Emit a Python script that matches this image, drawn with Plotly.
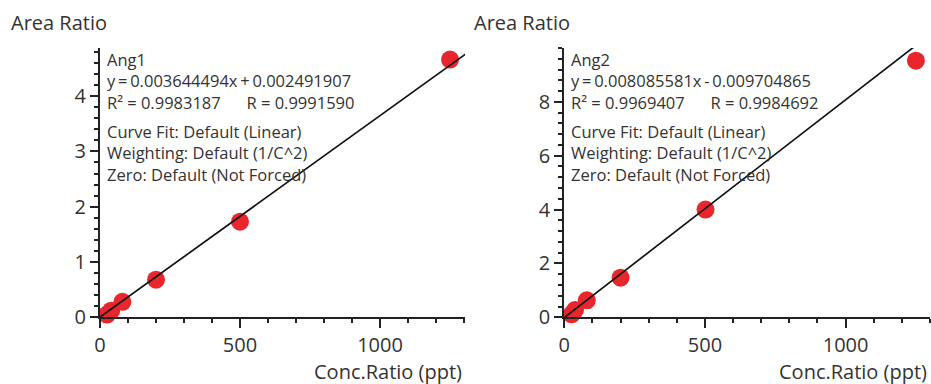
import plotly.graph_objects as go

# ---- data ----
conc_ang1 = [25, 40, 80, 200, 500, 1250]
ratio_ang1 = [0.05, 0.12, 0.28, 0.68, 1.73, 4.66]
conc_ang2 = [26, 38, 80, 200, 502, 1250]
ratio_ang2 = [0.11, 0.27, 0.63, 1.47, 4.0, 9.53]

fit1 = {"slope": 0.003644494, "intercept": 0.002491907}
fit2 = {"slope": 0.008085581, "intercept": -0.009704865}
fit_x = [0, 1320]

names = ["Ang1", "Ang2"]
eq_text = ["y\u2009=\u20090.003644494x\u2009+\u20090.002491907",
           "y\u2009=\u20090.008085581x\u2009-\u20090.009704865"]
r_text = ["R\u00b2 = 0.9983187" + "\u00a0" * 6 + "R = 0.9991590",
          "R\u00b2 = 0.9969407" + "\u00a0" * 6 + "R = 0.9984692"]
info_lines = ["Curve Fit: Default (Linear)",
              "Weighting: Default (1/C^2)",
              "Zero: Default (Not Forced)"]
y_title = "Area Ratio"
x_title = "Conc.Ratio (ppt)"

x_ticks = [0, 500, 1000]
y_ticks_1 = [0, 1, 2, 3, 4]
y_ticks_2 = [0, 2, 4, 6, 8]

W, H = 931, 384
RED = "#e8262b"
AX = "#222222"
FONT = "Open Sans"

fig = go.Figure()

panels = [
    dict(xs=conc_ang1, ys=ratio_ang1, fit=fit1, xa="x", ya="y",
         xdom=[100 / W, 465 / W], xr=[0, 1303.5], yr=[0, 4.87],
         yt=y_ticks_1, ydt=0.2, left=100),
    dict(xs=conc_ang2, ys=ratio_ang2, fit=fit2, xa="x2", ya="y2",
         xdom=[564.3 / W, 930 / W], xr=[0, 1300], yr=[0, 10.0],
         yt=y_ticks_2, ydt=0.4, left=564.3),
]

ydom = [(H - 317.3) / H, (H - 48) / H]

for i, p in enumerate(panels):
    fy = [p["fit"]["slope"] * x + p["fit"]["intercept"] for x in fit_x]
    fig.add_trace(go.Scatter(x=p["xs"], y=p["ys"], mode="markers",
                             marker=dict(color=RED, size=18, line=dict(width=0)),
                             xaxis=p["xa"], yaxis=p["ya"], showlegend=False,
                             cliponaxis=False))
    fig.add_trace(go.Scatter(x=fit_x, y=fy, mode="lines",
                             line=dict(color="#111111", width=1.7),
                             xaxis=p["xa"], yaxis=p["ya"], showlegend=False))

    axis_common = dict(showline=True, linecolor=AX, linewidth=2,
                       ticks="outside", tickcolor=AX, tickwidth=2,
                       showgrid=False, zeroline=False, fixedrange=True,
                       automargin=False,
                       tickfont=dict(family=FONT, size=20, color="#333333"))
    xkey = "xaxis" if i == 0 else "xaxis2"
    ykey = "yaxis" if i == 0 else "yaxis2"
    fig.layout[xkey] = dict(axis_common, domain=p["xdom"], range=p["xr"],
                            anchor=p["ya"], tickvals=x_ticks, ticklen=9,
                            minor=dict(dtick=100, tick0=0, ticks="outside",
                                       ticklen=4, tickwidth=2, tickcolor=AX))
    fig.layout[ykey] = dict(axis_common, domain=ydom, range=p["yr"],
                            anchor=p["xa"], tickvals=p["yt"], ticklen=8,
                            minor=dict(dtick=p["ydt"], tick0=0, ticks="outside",
                                       ticklen=4, tickwidth=2, tickcolor=AX))

    tx = (p["left"] + 5) / W
    lines1 = [names[i], eq_text[i], r_text[i]]
    fig.add_annotation(text="<br>".join(lines1), xref="paper", yref="paper",
                       x=tx, y=(H - 46) / H, xanchor="left", yanchor="top",
                       align="left", showarrow=False,
                       font=dict(family=FONT, size=16.5, color="#333333"))
    fig.add_annotation(text="<br>".join(info_lines), xref="paper", yref="paper",
                       x=tx, y=(H - 118) / H, xanchor="left", yanchor="top",
                       align="left", showarrow=False,
                       font=dict(family=FONT, size=16.5, color="#333333"))
    title_x = [9, 472][i]
    fig.add_annotation(text=y_title, xref="paper", yref="paper",
                       x=title_x / W, y=(H - 22.5) / H, xanchor="left",
                       yanchor="middle", showarrow=False,
                       font=dict(family=FONT, size=20, color="#333333"))
    xt_right = [464, 929][i]
    fig.add_annotation(text=x_title, xref="paper", yref="paper",
                       x=xt_right / W, y=(H - 371) / H, xanchor="right",
                       yanchor="middle", showarrow=False,
                       font=dict(family=FONT, size=20, color="#333333"))

fig.update_layout(width=W, height=H, margin=dict(l=0, r=0, t=0, b=0),
                  paper_bgcolor="white", plot_bgcolor="white")

fig.write_html("out.html", config={"displayModeBar": False},
               post_script="document.body.style.margin='0';"
                           "document.body.style.overflow='hidden';")
